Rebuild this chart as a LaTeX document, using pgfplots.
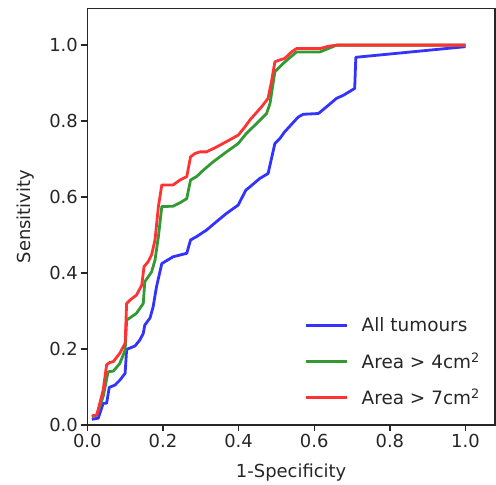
\documentclass[border=0pt]{standalone}
\usepackage{fontspec}
\setmainfont{DejaVu Sans}
\usepackage{pgfplots}
\pgfplotsset{compat=1.18}
\definecolor{mblue}{rgb}{0.2,0.2,1}
\definecolor{mgreen}{rgb}{0.2,0.6,0.2}
\definecolor{mred}{rgb}{1,0.2,0.2}
\definecolor{txt}{rgb}{0.15,0.15,0.15}
\begin{document}
\begin{tikzpicture}
\begin{axis}[
  scale only axis, width=407.7bp, height=416.7bp,
  xmin=0, xmax=1.078, ymin=0, ymax=1.097,
  xtick={0,0.2,0.4,0.6,0.8,1.0}, xticklabels={0.0,0.2,0.4,0.6,0.8,1.0},
  ytick={0,0.2,0.4,0.6,0.8,1.0}, yticklabels={0.0,0.2,0.4,0.6,0.8,1.0},
  tick align=outside, tick pos=left, major tick length=6bp,
  axis line style={line width=1.4bp, color=txt},
  every tick/.style={txt, line width=1.4bp},
  tick label style={font=\fontsize{18}{20}\selectfont, text=txt},
  xlabel={1-Specificity}, ylabel={Sensitivity},
  label style={font=\fontsize{18}{20}\selectfont, text=txt},
  xlabel style={at={(axis description cs:0.5,-0.113)}, anchor=center},
  ylabel style={at={(axis description cs:-0.152,0.5)}, anchor=center},
  legend cell align=left,
  legend image code/.code={\draw[#1, line width=2.8bp] (0bp,0bp) -- (41bp,0bp); \path (52bp,0bp);},
  legend style={draw=none, fill=none, at={(axis cs:0.567,0.293)}, anchor=north west,
    font=\fontsize{18.5}{20}\selectfont, text=txt, row sep=15.2bp},
  every axis plot/.append style={line width=2.8bp, line join=round},
]
\addplot[mblue] coordinates {
(0.012,0.015)(0.029,0.018)(0.042,0.057)(0.051,0.057)(0.058,0.099)(0.073,0.105)(0.086,0.118)(0.100,0.136)(0.104,0.199)(0.126,0.208)(0.139,0.224)(0.148,0.241)(0.152,0.263)(0.166,0.282)(0.174,0.311)(0.183,0.364)(0.197,0.425)(0.227,0.443)(0.263,0.452)(0.273,0.487)(0.289,0.496)(0.315,0.513)(0.346,0.539)(0.368,0.557)(0.399,0.579)(0.419,0.618)(0.430,0.627)(0.456,0.649)(0.478,0.662)(0.496,0.741)(0.509,0.754)(0.522,0.772)(0.558,0.811)(0.571,0.818)(0.611,0.820)(0.633,0.838)(0.659,0.860)(0.677,0.868)(0.707,0.886)(0.710,0.968)(1.0,0.996)
};
\addlegendentry{All tumours}
\addplot[mgreen] coordinates {
(0.012,0.022)(0.025,0.026)(0.042,0.075)(0.055,0.140)(0.069,0.142)(0.086,0.162)(0.100,0.197)(0.104,0.276)(0.130,0.294)(0.148,0.320)(0.152,0.377)(0.170,0.403)(0.179,0.434)(0.188,0.496)(0.197,0.575)(0.227,0.576)(0.245,0.585)(0.263,0.596)(0.273,0.645)(0.289,0.654)(0.307,0.671)(0.333,0.693)(0.368,0.719)(0.399,0.741)(0.421,0.768)(0.448,0.794)(0.474,0.820)(0.483,0.846)(0.496,0.930)(0.518,0.952)(0.553,0.982)(0.615,0.982)(0.659,1.0)(1.0,1.0)
};
\addlegendentry{Area > 4cm\textsuperscript{2}}
\addplot[mred] coordinates {
(0.012,0.024)(0.025,0.026)(0.042,0.092)(0.051,0.158)(0.058,0.164)(0.069,0.167)(0.086,0.189)(0.100,0.215)(0.104,0.320)(0.113,0.329)(0.130,0.342)(0.144,0.368)(0.150,0.417)(0.161,0.430)(0.170,0.448)(0.179,0.487)(0.188,0.575)(0.197,0.632)(0.227,0.632)(0.245,0.645)(0.263,0.654)(0.273,0.706)(0.285,0.715)(0.298,0.719)(0.315,0.719)(0.342,0.732)(0.368,0.746)(0.399,0.763)(0.417,0.785)(0.430,0.803)(0.461,0.838)(0.478,0.860)(0.487,0.904)(0.496,0.956)(0.509,0.961)(0.522,0.965)(0.540,0.982)(0.553,0.991)(0.615,0.991)(0.637,0.997)(0.659,1.0)(1.0,1.0)
};
\addlegendentry{Area > 7cm\textsuperscript{2}}
\end{axis}
\pgfresetboundingbox
\path[use as bounding box] ([xshift=-87.3bp,yshift=-60bp]current axis.south west) rectangle ([xshift=1bp,yshift=8.3bp]current axis.north east);
\end{tikzpicture}
\end{document}
